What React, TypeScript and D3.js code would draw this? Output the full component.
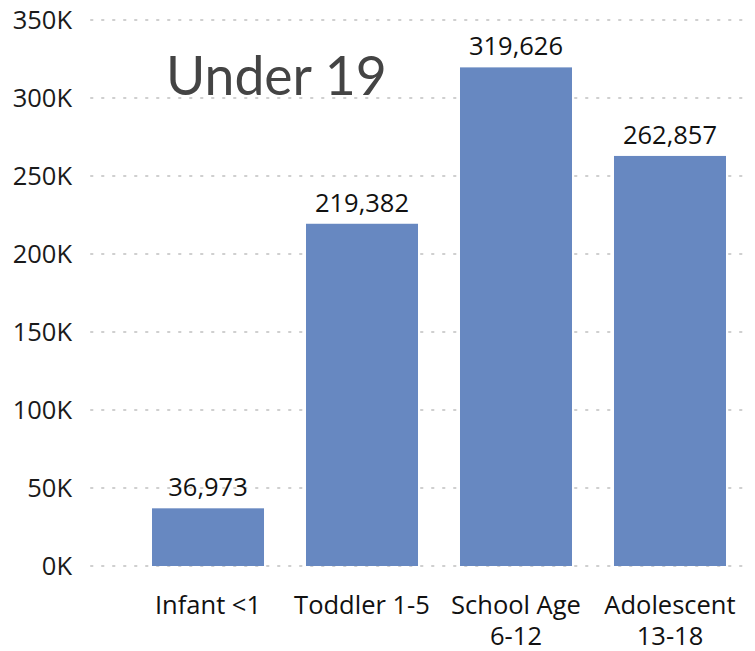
import React from "react";
import * as d3 from "d3";

const categories: string[][] = [["Infant <1"], ["Toddler 1-5"], ["School Age", "6-12"], ["Adolescent", "13-18"]];
const values: number[] = [36973, 219382, 319626, 262857];
const yTicks: number[] = [0, 50000, 100000, 150000, 200000, 250000, 300000, 350000];
const title = "Under 19";

export default function App() {
  const W = 755, H = 651;
  const x = d3.scaleBand<number>().domain(d3.range(values.length)).range([131, 747]).paddingInner(0.2727).paddingOuter(0.1364);
  const y = d3.scaleLinear().domain([0, 350000]).range([566, 20]);
  const fmt = d3.format(",");
  const font = "'Open Sans', sans-serif";
  return (
    <svg width={W} height={H} style={{ position: "absolute", left: 0, top: 0, background: "#fff" }}>
      {yTicks.map((t) => (
        <g key={t}>
          <line x1={91} x2={745} y1={y(t)} y2={y(t)} stroke="#cfcfcf" strokeWidth={2} strokeDasharray="1.5 9.5" strokeLinecap="round" />
          <text x={72} y={y(t)} dy="0.35em" textAnchor="end" fontFamily={font} fontSize={25.5} fill="#1a1a1a">{t / 1000 + "K"}</text>
        </g>
      ))}
      {values.map((v, i) => (
        <g key={i}>
          <rect x={x(i)} y={y(v)} width={x.bandwidth()} height={y(0) - y(v)} fill="#6788c1" />
          <text x={x(i)! + x.bandwidth() / 2} y={y(v) - 12} textAnchor="middle" fontFamily={font} fontSize={25.5} fill="#111">{fmt(v)}</text>
          {categories[i].map((line, j) => (
            <text key={j} x={x(i)! + x.bandwidth() / 2} y={614 + j * 31} textAnchor="middle" fontFamily={font} fontSize={25.5} fill="#111">{line}</text>
          ))}
        </g>
      ))}
      <text x={166} y={95} fontFamily="Lato, sans-serif" fontSize={53.5} fill="#444">{title}</text>
    </svg>
  );
}
